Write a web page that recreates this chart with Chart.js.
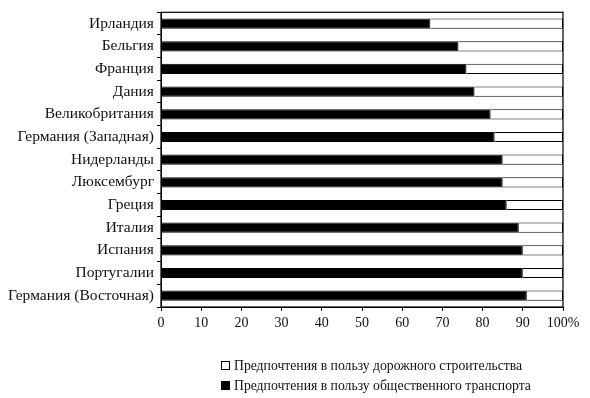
<!DOCTYPE html>
<html>
<head>
<meta charset="utf-8">
<script src="https://cdn.jsdelivr.net/npm/chart.js@4"></script>
<style>
  html, body { margin: 0; padding: 0; background: #fff; }
  #wrap { position: relative; width: 590px; height: 398px; }
  #legend { position: absolute; left: 221px; top: 357px; font: 13.7px 'Liberation Serif', serif; color: #111; }
  #legend div { height: 20px; line-height: 17px; white-space: nowrap; }
  #legend span { display: inline-block; width: 7px; height: 7px; border: 1px solid #000; margin-right: 4px; vertical-align: 0px; }
</style>
</head>
<body>
<div id="wrap">
  <canvas id="chart" width="590" height="398"></canvas>
  <div id="legend">
    <div><span style="background:#fff"></span>Предпочтения в пользу дорожного строительства</div>
    <div><span style="background:#000"></span>Предпочтения в пользу общественного транспорта</div>
  </div>
</div>
<script>
// data
const countries = [
  'Ирландия', 'Бельгия', 'Франция', 'Дания', 'Великобритания',
  'Германия (Западная)', 'Нидерланды', 'Люксембург', 'Греция',
  'Италия', 'Испания', 'Португалии', 'Германия (Восточная)'
];
const publicTransport = [67, 74, 76, 78, 82, 83, 85, 85, 86, 89, 90, 90, 91];
const roadBuilding    = [33, 26, 24, 22, 18, 17, 15, 15, 14, 11, 10, 10, 9];
const xTickLabels = { 0: '0', 10: '10', 20: '20', 30: '30', 40: '40', 50: '50',
                      60: '60', 70: '70', 80: '80', 90: '90', 100: '100%' };

const serif = "'Liberation Serif', serif";

// outline around the whole plot area
const frame = {
  id: 'frame',
  afterDraw(chart) {
    const { ctx, chartArea: a } = chart;
    ctx.save();
    ctx.strokeStyle = '#000';
    ctx.lineWidth = 1.2;
    ctx.strokeRect(a.left, a.top, a.right - a.left, a.bottom - a.top);
    ctx.restore();
  }
};

new Chart(document.getElementById('chart').getContext('2d'), {
  type: 'bar',
  data: {
    labels: countries,
    datasets: [
      {
        label: 'Предпочтения в пользу общественного транспорта',
        data: publicTransport,
        backgroundColor: '#000',
        borderColor: '#000',
        borderWidth: 1,
        barPercentage: 0.45,
        categoryPercentage: 1
      },
      {
        label: 'Предпочтения в пользу дорожного строительства',
        data: roadBuilding,
        backgroundColor: '#fff',
        borderColor: '#000',
        borderWidth: 1,
        barPercentage: 0.45,
        categoryPercentage: 1
      }
    ]
  },
  options: {
    indexAxis: 'y',
    responsive: false,
    animation: false,
    layout: { padding: { top: 7, right: 27, bottom: 60, left: 0 } },
    plugins: { legend: { display: false }, tooltip: { enabled: false } },
    scales: {
      x: {
        stacked: true,
        min: 0, max: 100,
        grid: { drawOnChartArea: false, color: '#000', tickLength: 4 },
        border: { color: '#000', width: 1 },
        ticks: {
          stepSize: 10, color: '#111', font: { family: serif, size: 14 }, padding: 4, maxRotation: 0,
          callback: v => xTickLabels[v]
        },
        afterFit: s => { s.height = 31; }
      },
      y: {
        stacked: true,
        grid: { drawOnChartArea: false, color: '#000', tickLength: 4 },
        border: { color: '#000', width: 1 },
        ticks: { color: '#111', font: { family: serif, size: 15.5 }, padding: 3 },
        afterFit: s => { s.width = 161; }
      }
    }
  },
  plugins: [frame]
});
</script>
</body>
</html>
